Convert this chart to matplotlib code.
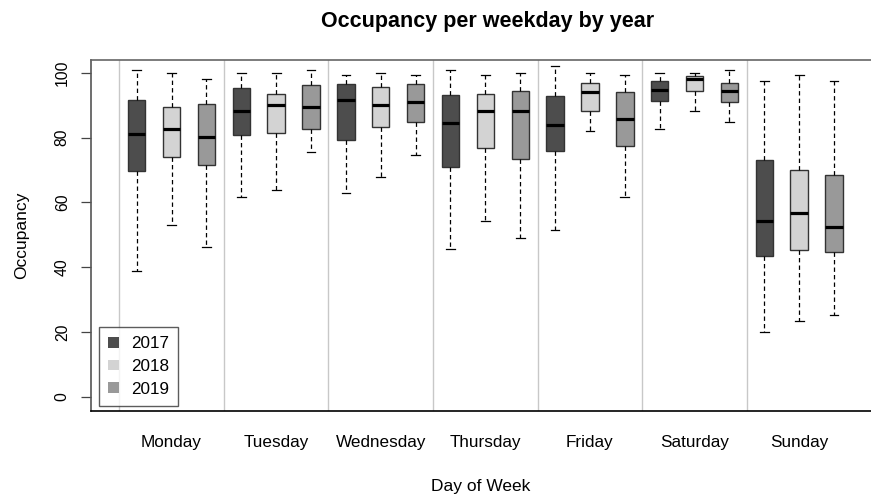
import matplotlib.pyplot as plt
from matplotlib.patches import Patch

plt.rcParams['font.family'] = ['Liberation Sans', 'DejaVu Sans']

# Datos (por dia: 2017, 2018, 2019)
dias = ['Monday', 'Tuesday', 'Wednesday', 'Thursday', 'Friday', 'Saturday', 'Sunday']
anios = ['2017', '2018', '2019']
colores = ['#4d4d4d', '#d3d3d3', '#999999']

minimo = [[39.0, 53.1, 46.4], [61.8, 63.7, 75.4], [63.0, 67.7, 74.7], [45.7, 54.3, 49.0],
          [51.5, 82.1, 61.8], [82.7, 88.1, 84.8], [20.0, 23.3, 25.3]]
q1 = [[69.7, 74.0, 71.4], [80.7, 81.4, 82.6], [79.1, 83.2, 84.7], [71.0, 76.9, 73.3],
      [75.7, 88.3, 77.3], [91.3, 94.3, 91.0], [43.5, 45.3, 44.7]]
mediana = [[81.1, 82.7, 80.3], [88.1, 90.0, 89.4], [91.7, 90.0, 91.0], [84.4, 88.1, 88.1],
           [83.8, 94.0, 85.7], [94.8, 98.1, 94.3], [54.3, 56.7, 52.3]]
q3 = [[91.7, 89.3, 90.4], [95.3, 93.4, 96.1], [96.4, 95.7, 96.5], [93.1, 93.4, 94.3],
      [92.7, 96.7, 94.0], [97.3, 98.9, 96.7], [73.0, 70.1, 68.6]]
maximo = [[100.7, 99.9, 98.0], [99.9, 99.9, 100.7], [99.4, 99.9, 99.4], [100.7, 99.4, 99.9],
          [102.2, 99.9, 99.4], [99.9, 99.9, 100.7], [97.3, 99.4, 97.3]]

fig = plt.figure(figsize=(8.71, 5), dpi=100)
ax = fig.add_axes([91 / 871, 89 / 500, 1 - 91 / 871, 351 / 500])

stats, posiciones, caja_colores = [], [], []
for d in range(len(dias)):
    for a in range(len(anios)):
        stats.append({'whislo': minimo[d][a], 'q1': q1[d][a], 'med': mediana[d][a],
                      'q3': q3[d][a], 'whishi': maximo[d][a]})
        posiciones.append(d * 3 + a + 1)
        caja_colores.append(colores[a])

# separadores entre dias
for d in range(len(dias)):
    ax.axvline(d * 3 + 0.5, color='#c8c8c8', lw=1, zorder=0)

bp = ax.bxp(stats, positions=posiciones, widths=0.5, showfliers=False, patch_artist=True,
            boxprops=dict(edgecolor='#333333', linewidth=1),
            whiskerprops=dict(color='black', linestyle=(0, (3.5, 2.5)), linewidth=0.9),
            capprops=dict(color='black', linewidth=0.9),
            medianprops=dict(color='black', linewidth=2.3),
            capwidths=0.25)
for caja, c in zip(bp['boxes'], caja_colores):
    caja.set_facecolor(c)

ax.set_xlim(-0.31, 22.06)
ax.set_ylim(-4.3, 103.9)
ax.set_yticks([0, 20, 40, 60, 80, 100])
ax.set_yticklabels(['0', '20', '40', '60', '80', '100'], rotation=90, va='center', fontsize=11.3)
ax.tick_params(axis='y', length=7, width=0.9, color='#444444', pad=8.3)
ax.set_xticks([d * 3 + 2 for d in range(len(dias))])
ax.set_xticklabels(dias, fontsize=12.3)
ax.tick_params(axis='x', length=0, pad=17)

ax.spines['right'].set_visible(False)
ax.spines['top'].set_color('#666666')
ax.spines['left'].set_color('#555555')
ax.spines['bottom'].set_color('black')
for s in ax.spines.values():
    s.set_linewidth(1.2)

ax.set_xlabel('Day of Week', fontsize=12.5, labelpad=21)
ax.set_ylabel('Occupancy', fontsize=12.5, labelpad=18.5)
fig.text(0.56, 0.958, 'Occupancy per weekday by year', ha='center', va='center',
         fontsize=15.5, fontweight='bold')

manejadores = [Patch(facecolor=c, edgecolor='none') for c in colores]
ley = ax.legend(manejadores, anios, loc='lower left', bbox_to_anchor=(0.0103, 0.014),
                fontsize=12.3, frameon=True, fancybox=False, edgecolor='#333333',
                handlelength=0.6, handleheight=0.6, handletextpad=0.7,
                labelspacing=0.45, borderpad=0.55, borderaxespad=0)
ley.get_frame().set_linewidth(1)

plt.savefig('out.png', dpi=100)
